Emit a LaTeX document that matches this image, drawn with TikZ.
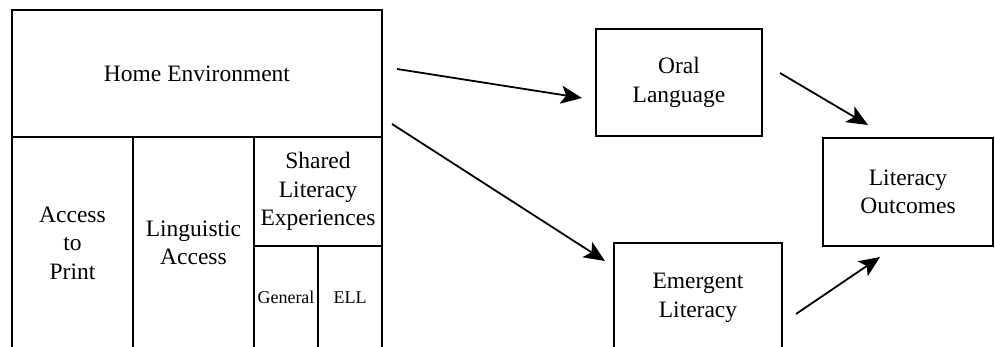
\documentclass[tikz,border=0pt]{standalone}
\usepackage{fontspec}
\setmainfont{Liberation Serif}
\usetikzlibrary{arrows.meta,calc}
\begin{document}
\begin{tikzpicture}[x=1pt,y=-1pt,
  cell/.style={draw, line width=1.6pt, rectangle, inner sep=0pt, outer sep=0pt, align=center,
    font=\fontsize{23.5}{28.5}\selectfont},
  small/.style={cell, font=\fontsize{18}{20}\selectfont},
  arr/.style={line width=1.8pt, -{Stealth[length=21pt,width=18pt,inset=5pt]}}]
\useasboundingbox (0,0) rectangle (995,347);
\clip (0,0) rectangle (995,347);
% left grid
\node[cell, minimum width=370pt, minimum height=127pt] (home) at (197,73.5) {Home Environment};
\node[cell, minimum width=121pt, minimum height=212pt] (access) at (72.5,243) {Access\\to\\Print};
\node[cell, minimum width=121pt, minimum height=212pt] (ling) at (193.5,243) {Linguistic\\Access};
\node[cell, minimum width=128pt, minimum height=109pt] (shared) at (318,191.5) {Shared\\Literacy\\Experiences};
\node[small, minimum width=64pt, minimum height=103pt] (general) at (286,297.5) {General};
\node[small, minimum width=64pt, minimum height=103pt] (ell) at (350,297.5) {ELL};
% right boxes
\node[cell, minimum width=166pt, minimum height=107pt] (oral) at (679,82.5) {Oral\\Language};
\node[cell, minimum width=168pt, minimum height=110pt] (emergent) at (698,298) {Emergent\\Literacy};
\node[cell, minimum width=170pt, minimum height=108pt] (outcomes) at (908,192) {Literacy\\Outcomes};
% arrows
\draw[arr] ($(home.east)+(15,-4.5)$) -- ($(oral.west)+(-14,15.5)$);
\draw[arr] ($(home.east)+(10,50.5)$) -- ($(emergent.north west)+(-9,18)$);
\draw[arr] ($(oral.east)+(18,-9.5)$) -- ($(outcomes.north west)+(45,-13)$);
\draw[arr] ($(emergent.east)+(14,16)$) -- ($(outcomes.south west)+(57,11)$);
\end{tikzpicture}
\end{document}
